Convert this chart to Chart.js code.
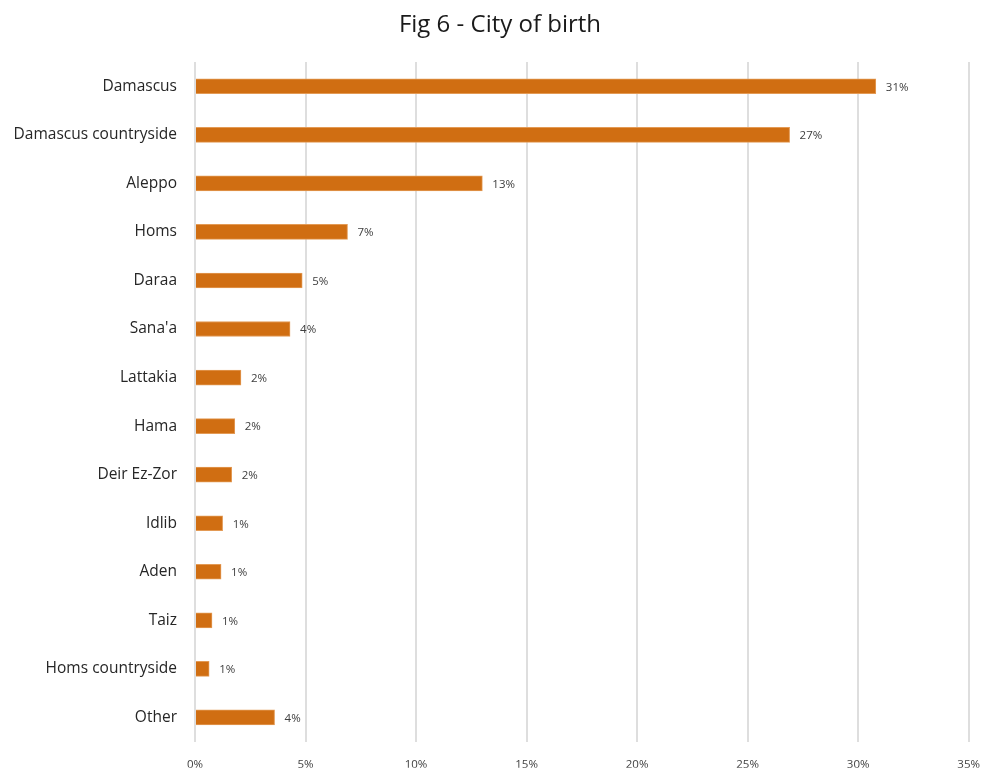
<!DOCTYPE html>
<html>
<head>
<meta charset="utf-8">
<script src="https://cdn.jsdelivr.net/npm/chart.js@4/dist/chart.umd.min.js"></script>
<style>
    html, body { margin: 0; padding: 0; background: #fff; }
    #wrap { width: 983px; height: 769px; }
</style>
</head>
<body>
<div id="wrap"><canvas id="cityChart"></canvas></div>
<script>
// Categories and values (share of respondents, %)
const cities = ['Damascus', 'Damascus countryside', 'Aleppo', 'Homs', 'Daraa', "Sana'a",
    'Lattakia', 'Hama', 'Deir Ez-Zor', 'Idlib', 'Aden', 'Taiz', 'Homs countryside', 'Other'];
const shares = [30.8, 26.9, 13.0, 6.9, 4.85, 4.3, 2.08, 1.8, 1.66, 1.25, 1.18, 0.77, 0.64, 3.6];
const xTicks = [0, 5, 10, 15, 20, 25, 30, 35];
const chartTitle = 'Fig 6 - City of birth';

// Title drawn by hand: the original sits a little right of the canvas centre
const titlePlugin = {
    id: 'titlePlugin',
    afterDraw(chart) {
        const ctx = chart.ctx;
        ctx.save();
        ctx.font = '24px "Open Sans", sans-serif';
        ctx.fillStyle = '#1a1a1a';
        ctx.textAlign = 'center';
        ctx.textBaseline = 'middle';
        ctx.fillText(chartTitle, 500, 25);
        ctx.restore();
    }
};

// Draw the percentage next to the end of each bar
const valueLabels = {
    id: 'valueLabels',
    afterDatasetsDraw(chart) {
        const ctx = chart.ctx;
        const meta = chart.getDatasetMeta(0);
        ctx.save();
        ctx.font = '11.5px "Open Sans", sans-serif';
        ctx.fillStyle = '#404040';
        ctx.textAlign = 'left';
        ctx.textBaseline = 'middle';
        meta.data.forEach((bar, i) => {
            ctx.fillText(Math.round(shares[i]) + '%', bar.x + 10, bar.y + 1);
        });
        ctx.restore();
    }
};

const ctx = document.getElementById('cityChart').getContext('2d');
const chart = new Chart(ctx, {
    type: 'bar',
    data: {
        labels: cities,
        datasets: [{
            data: shares,
            backgroundColor: '#D06E12',
            borderColor: '#E39A55',
            borderWidth: 1,
            barThickness: 15
        }]
    },
    options: {
        indexAxis: 'y',
        responsive: true,
        maintainAspectRatio: false,
        animation: false,
        layout: { padding: { top: 62, right: 14, bottom: 0, left: 0 } },
        plugins: {
            legend: { display: false },
            tooltip: { enabled: false },
            title: { display: false }
        },
        scales: {
            x: {
                min: 0,
                max: 35,
                afterBuildTicks: axis => { axis.ticks = xTicks.map(v => ({ value: v })); },
                afterFit: axis => { axis.height = 26; },
                grid: { color: '#dedede', lineWidth: 2, drawTicks: true, tickLength: 13, tickColor: 'rgba(0,0,0,0)' },
                border: { display: false },
                ticks: {
                    padding: 3,
                    color: '#404040',
                    font: { family: '"Open Sans", sans-serif', size: 11.5 },
                    callback: v => v + '%'
                }
            },
            y: {
                afterFit: axis => { axis.width = 195; },
                grid: { display: false, drawTicks: false },
                border: { display: false },
                ticks: {
                    padding: 18,
                    color: '#262626',
                    font: { family: '"Open Sans", sans-serif', size: 15.5 }
                }
            }
        }
    },
    plugins: [valueLabels, titlePlugin]
});
</script>
</body>
</html>
